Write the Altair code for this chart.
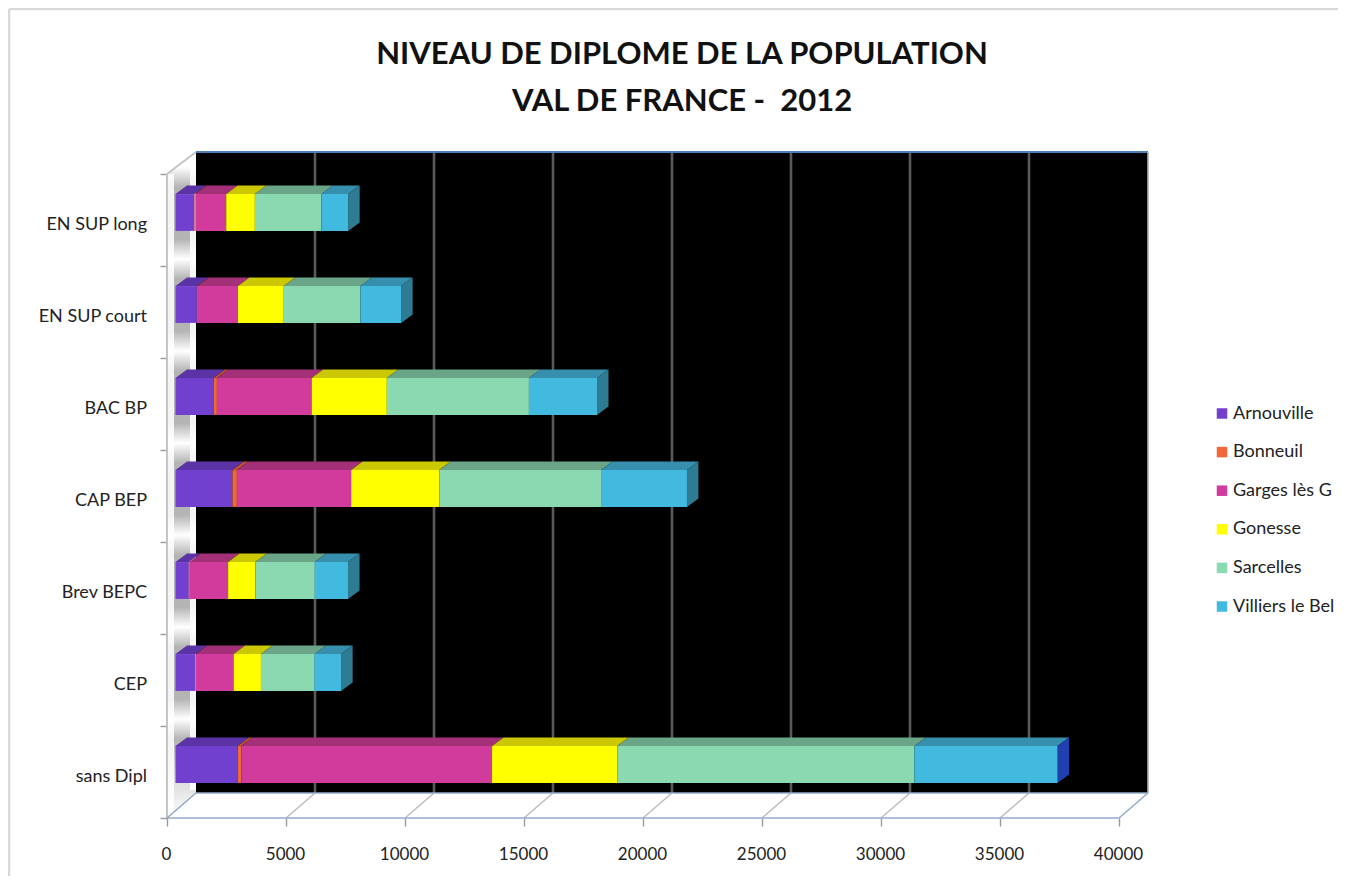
import altair as alt
import pandas as pd

categories = ["sans Dipl", "CEP", "Brev BEPC", "CAP BEP", "BAC BP", "EN SUP court", "EN SUP long"]
series_names = ["Arnouville", "Bonneuil", "Garges lès G", "Gonesse", "Sarcelles", "Villiers le Bel"]
arnouville = [2610, 840, 560, 2390, 1600, 900, 800]
bonneuil = [150, 20, 20, 190, 140, 40, 40]
garges = [10540, 1580, 1630, 4800, 3980, 1680, 1290]
gonesse = [5260, 1150, 1150, 3700, 3160, 1930, 1205]
sarcelles = [12490, 2250, 2490, 6800, 5970, 3220, 2800]
villiers = [6010, 1120, 1400, 3610, 2860, 1710, 1120]
front_colors = ["#7140CF", "#F0683A", "#D13B9C", "#FFFF00", "#8AD9B0", "#42BADF"]
top_colors = ["#5A33A6", "#C0552F", "#A33078", "#CCC800", "#6BA587", "#358FAD"]
side_colors = ["#2040B0", "#2E7C93", "#2E7C93", "#2E7C93", "#2E7C93", "#2E7C93", "#2E7C93"]
x_ticks = [0, 5000, 10000, 15000, 20000, 25000, 30000, 35000, 40000]
title_lines = ["NIVEAU DE DIPLOME DE LA POPULATION", "VAL DE FRANCE -\u00a0 2012"]

series = [arnouville, bonneuil, garges, gonesse, sarcelles, villiers]

# pixel geometry of the pseudo-3D frame
PXU = 952 / 40000      # pixels per x unit
BAND = 92              # pixels per category band
W, H = 979, 666
WALL_X = 29 / PXU
FLOOR_Y = 25 / BAND
TOP_Y = H / BAND
BAR_X0 = 8.5 / PXU
BAR_LIFT = 7.5 / BAND
BAR_HALF = 18.4 / BAND
DEPTH_X = 11.5 / PXU
DEPTH_Y = 8.5 / BAND

xs = alt.Scale(domain=[0, W / PXU], nice=False, zero=False)
ys = alt.Scale(domain=[0, TOP_Y], nice=False, zero=False)
x_axis = alt.Axis(
    values=x_ticks, grid=False, domain=False, tickColor="#9a9a9a", tickSize=8, tickWidth=1.4,
    labelPadding=20, labelFont="Lato", labelFontSize=17, labelColor="#222222", format="d",
    labelOverlap=False, labelFlush=False, labelOffset=-1, title=None)
y_axis = alt.Axis(
    values=list(range(8)), grid=False, domain=False, labels=False, tickColor="#9a9a9a",
    tickSize=7, tickWidth=1.4, title=None)
X = lambda f="x": alt.X(f + ":Q", scale=xs, axis=x_axis, stack=None)
Y = lambda f="y": alt.Y(f + ":Q", scale=ys, axis=y_axis, stack=None)

front, top, side = [], [], []
for i, cat in enumerate(categories):
    y1 = i + 0.5 + BAR_LIFT - BAR_HALF
    y2 = i + 0.5 + BAR_LIFT + BAR_HALF
    start = BAR_X0
    for j, name in enumerate(series_names):
        end = start + series[j][i]
        front.append(dict(x=start, x2=end, y=y1, y2=y2, serie=name))
        gid = f"{i}-{j}"
        top.append(dict(g=gid, x=start, x2=end, y=y2, c=top_colors[j]))
        top.append(dict(g=gid, x=start + DEPTH_X, x2=end + DEPTH_X, y=y2 + DEPTH_Y, c=top_colors[j]))
        start = end
    side.append(dict(g=i, x=start, y=y1, y2=y2, c=side_colors[i]))
    side.append(dict(g=i, x=start + DEPTH_X, y=y1 + DEPTH_Y, y2=y2 + DEPTH_Y, c=side_colors[i]))

front_df, top_df, side_df = pd.DataFrame(front), pd.DataFrame(top), pd.DataFrame(side)

# ---- frame
stops = [alt.GradientStop(offset=0, color="#ffffff")]
for k in range(7):
    centre = 259 + 92 * (k - 1)
    for dy, col in ((-20, "#b4b4b4"), (0, "#ffffff"), (20, "#b4b4b4")):
        off = (centre + dy - 152) / 666
        if 0 < off < 1:
            stops.append(alt.GradientStop(offset=off, color=col))
stops.append(alt.GradientStop(offset=1, color="#ffffff"))
wall_df = pd.DataFrame([dict(x=0, y=0, y2=7), dict(x=WALL_X, y=FLOOR_Y, y2=TOP_Y)])
wall = alt.Chart(wall_df).mark_area(
    orient="vertical",
    fill=alt.Gradient(gradient="linear", stops=stops, x1=0, x2=0, y1=0, y2=1),
).encode(x=X(), y=Y(), y2="y2:Q")

black = alt.Chart(pd.DataFrame([dict(x=WALL_X, x2=40000 + WALL_X, y=FLOOR_Y, y2=TOP_Y)])).mark_rect(
    color="black"
).encode(x=X(), x2="x2:Q", y=Y(), y2="y2:Q")


def segs(rows):
    out = []
    for n, (a, b, c, d) in enumerate(rows):
        out += [dict(g=n, x=a, y=b, o=0), dict(g=n, x=c, y=d, o=1)]
    return pd.DataFrame(out)


def lines(rows, color, width, opacity=1):
    return alt.Chart(segs(rows)).mark_line(color=color, strokeWidth=width, clip=False, opacity=opacity).encode(
        x=X(), y=Y(), detail="g:N", order="o:Q"
    )


back_grid = lines([(v + WALL_X, FLOOR_Y, v + WALL_X, TOP_Y) for v in x_ticks[1:-1]], "#5a5a5a", 2.6)
floor_grid = lines([(v, 0, v + WALL_X, FLOOR_Y) for v in x_ticks[1:-1]], "#bdbdbd", 1.5)
floor_edges = lines(
    [(0, 0, 40000, 0), (WALL_X, FLOOR_Y, 40000 + WALL_X, FLOOR_Y), (0, 0, WALL_X, FLOOR_Y),
     (40000, 0, 40000 + WALL_X, FLOOR_Y)], "#94aaca", 1.6)
top_edge = lines([(WALL_X, TOP_Y, 40000 + WALL_X, TOP_Y)], "#4f7fb8", 2)
right_edge = lines([(40000 + WALL_X, FLOOR_Y, 40000 + WALL_X, TOP_Y)], "#b0b0b0", 1.6)
wall_gleam = lines(
    [(4 / PXU, 3 / BAND, 4 / PXU, 7), (26 / PXU, FLOOR_Y + 3 / BAND, 26 / PXU, TOP_Y)], "#ffffff", 6, 0.85)
wall_edges = lines([(0, 0, 0, 7), (0, 7, WALL_X, TOP_Y)], "#c4c4c4", 2)
page_edges = lines(
    [(-158 / PXU, 143 / BAND + TOP_Y, 1346 / PXU, 143 / BAND + TOP_Y),
     (-158 / PXU, 143 / BAND + TOP_Y, -158 / PXU, -68 / BAND)], "#d8d8d8", 2.5)

top_layers = [
    alt.Chart(top_df[top_df.c == c]).mark_area(orient="horizontal", color=c).encode(
        x=X(), x2="x2:Q", y=Y(), detail="g:N")
    for c in top_colors
]
side_layers = [
    alt.Chart(side_df[side_df.c == c]).mark_area(orient="vertical", color=c).encode(
        x=X(), y=Y(), y2="y2:Q", detail="g:N")
    for c in sorted(set(side_colors))
]
bars = alt.Chart(front_df).mark_rect().encode(
    x=X(), x2="x2:Q", y=Y(), y2="y2:Q",
    color=alt.Color("serie:N", scale=alt.Scale(domain=series_names, range=front_colors),
                    sort=series_names, title=None,
                    legend=alt.Legend(orient="none", legendX=1046, legendY=252.5, symbolType="square",
                                      symbolSize=110, symbolStrokeWidth=0, labelFont="Lato",
                                      labelFontSize=18, labelColor="#222222", labelLimit=200,
                                      rowPadding=20.6, labelOffset=2, padding=0)),
)

label_df = pd.DataFrame({"cat": categories, "y": [i + 0.5 for i in range(len(categories))], "x": [0] * len(categories)})
labels = alt.Chart(label_df).mark_text(
    align="right", baseline="middle", font="Lato", fontSize=18, color="#222222", xOffset=-20, yOffset=4.5
).encode(x=X(), y=Y(), text="cat:N")

title_df = pd.DataFrame({"t": title_lines, "x": [515 / PXU] * 2, "y": [TOP_Y + 97 / BAND, TOP_Y + 50 / BAND]})
title = alt.Chart(title_df).mark_text(
    align="center", baseline="middle", font="Lato", fontSize=31, fontWeight="bold", color="#111111"
).encode(x=X(), y=Y(), text="t:N")

chart = alt.layer(
    page_edges, wall, wall_gleam, wall_edges, black, back_grid, floor_grid, floor_edges, top_edge, right_edge,
    *top_layers, *side_layers, bars, labels, title,
).properties(
    width=W,
    height=H,
    padding={"left": 159, "top": 144, "right": 192, "bottom": 58},
    autosize=alt.AutoSizeParams(type="none"),
    background="white",
).configure_view(stroke=None)

chart.save("out.html", embed_options={"renderer": "svg", "actions": False})
